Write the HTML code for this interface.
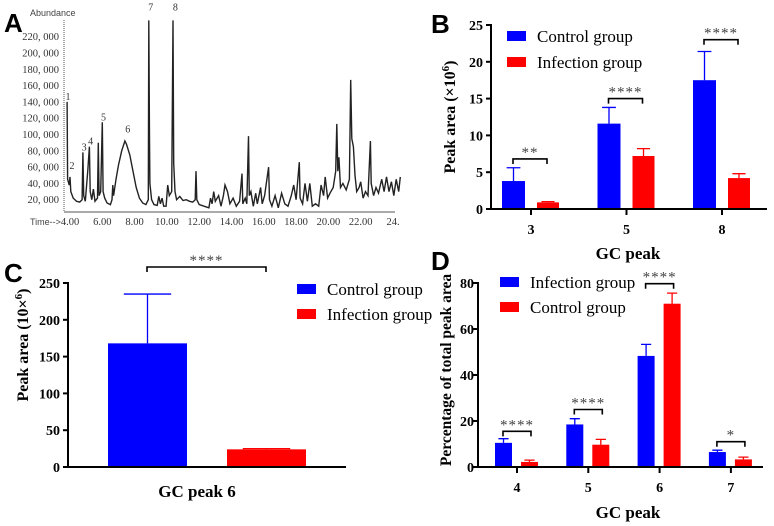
<!DOCTYPE html>
<html><head><meta charset="utf-8"><style>
html,body{margin:0;padding:0;background:#fff;}
svg{display:block;}
text{font-family:"Liberation Serif",serif;}
.tk{font-weight:bold;font-size:14px;}
.lab{font-weight:bold;font-size:16px;}
.leg{font-size:17px;}
.pl{font-family:"Liberation Sans",sans-serif;font-weight:bold;font-size:26px;}
.ga{font-family:"Liberation Serif",serif;font-size:10.5px;fill:#333;}
</style></head><body>
<svg id="fig" width="774" height="526" viewBox="0 0 774 526" xmlns="http://www.w3.org/2000/svg">
<text class="pl" x="4" y="32">A</text>
<text class="pl" x="431" y="33">B</text>
<text class="pl" x="4" y="282">C</text>
<text class="pl" x="431" y="270">D</text>
<g id="gA"></g>
<g id="gB"></g>
<g id="gC"></g>
<g id="gD"></g>
</svg>
<script>
// ---- Panel A data ----
const chromTimes=[3.82,3.85,3.95,4.0,4.05,4.2,4.4,4.6,4.75,4.8,4.85,4.95,5.1,5.2,5.25,5.35,5.45,5.55,5.7,5.75,5.8,5.9,6.0,6.05,6.15,6.3,6.5,6.6,6.65,6.7,6.85,7.0,7.2,7.4,7.5,7.7,7.9,8.1,8.3,8.5,8.7,8.85,8.88,8.92,8.95,9.05,9.2,9.4,9.5,9.6,9.7,9.8,9.95,10.05,10.15,10.3,10.38,10.42,10.5,10.6,10.8,11.0,11.2,11.4,11.6,11.75,11.8,11.85,12.0,12.3,12.6,12.7,12.8,12.9,13.0,13.2,13.35,13.5,13.6,13.75,13.9,14.1,14.3,14.5,14.65,14.7,14.85,14.95,15.05,15.1,15.2,15.35,15.5,15.6,15.8,15.9,16.05,16.3,16.35,16.5,16.7,16.9,17.1,17.3,17.5,17.7,17.85,18.0,18.2,18.25,18.4,18.55,18.7,18.85,19.0,19.2,19.4,19.55,19.7,19.8,19.95,20.1,20.3,20.45,20.52,20.58,20.65,20.75,20.9,21.1,21.3,21.38,21.45,21.55,21.65,21.75,21.9,22.0,22.15,22.3,22.45,22.6,22.65,22.8,22.95,23.1,23.3,23.45,23.6,23.75,23.9,24.05,24.2,24.35,24.45];
const chromAbund=[140,45,38,48,30,22,18,17,20,78,25,18,56,85,30,20,33,18,22,90,25,30,115,30,22,16,14,20,38,25,45,62,80,92,88,75,55,35,22,16,14,20,240,95,40,20,14,13,24,15,22,12,12,38,25,30,240,65,30,20,24,19,20,18,17,20,55,20,14,12,10,22,15,30,18,25,12,25,38,30,15,22,12,18,52,15,22,15,98,25,30,12,28,15,35,15,25,60,20,12,25,10,28,15,12,25,38,20,66,22,15,40,18,40,12,15,12,38,25,48,22,28,35,55,113,55,72,35,40,32,45,167,95,85,50,30,35,42,22,30,25,92,40,25,35,28,45,30,48,30,42,25,45,30,48];
const chromYTicks=[20,40,60,80,100,120,140,160,180,200,220];
const chromXTicks=[4,6,8,10,12,14,16,18,20,22,24];
const peakLabels=["1","2","3","4","5","6","7","8"];
const peakLabelTimes=[3.75,4.0,4.75,5.15,5.95,7.45,8.88,10.4];
const peakLabelAbund=[140,55,78,85,115,100,250,250];
// ---- Panel B data ----
const bCats=["3","5","8"];
const bControl=[3.8,11.6,17.5];
const bControlErr=[5.6,13.8,21.4];
const bInfect=[0.9,7.2,4.2];
const bInfectErr=[1.0,8.2,4.8];
const bSig=["**","****","****"];
const bSigY=[6.8,15.0,23.0];
const bTicks=[0,5,10,15,20,25];
// ---- Panel C data ----
const cControl=[168];
const cControlErr=[235];
const cInfect=[24];
const cInfectErr=[25];
const cTicks=[0,50,100,150,200,250];
// ---- Panel D data ----
const dCats=["4","5","6","7"];
const dInfect=[10.5,18.5,48.3,6.5];
const dInfectErr=[12.3,21,53.3,7.3];
const dControl=[2.2,9.7,71,3.3];
const dControlErr=[3.0,12,75.6,4.3];
const dSig=["****","****","****","*"];
const dSigY=[15.5,25,79.7,11];
const dTicks=[0,20,40,60,80];

const NS="http://www.w3.org/2000/svg";
function mk(p,tag,at,txt){const e=document.createElementNS(NS,tag);for(const k in at)e.setAttribute(k,at[k]);if(txt!==undefined)e.textContent=txt;p.appendChild(e);return e;}
const BLUE="#0000ff",RED="#ff0000";

// ---------- Panel A ----------
(function(){
 const g=document.getElementById('gA');
 const xA=t=>70+(t-4)*16.15, yA=v=>216-v*0.815;
 let e=mk(g,'text',{x:30,y:16,style:'font-family:Liberation Sans;font-size:9px;fill:#444'},'Abundance');
 
 e=mk(g,'line',{x1:64,y1:20,x2:64,y2:212,stroke:'#555','stroke-width':1,'stroke-dasharray':'1 1'});
 
 e=mk(g,'line',{x1:64,y1:212,x2:395,y2:212,stroke:'#555','stroke-width':1});
 
 chromYTicks.forEach(v=>{e=mk(g,'text',{x:59,y:yA(v)+3.5,'text-anchor':'end',class:'ga'},v===0?'0':(v+', 000'));
  });
 e=mk(g,'text',{x:30,y:225,style:'font-family:Liberation Sans;font-size:9px;fill:#444'},'Time-->');
 
 chromXTicks.forEach(t=>{e=mk(g,'text',{x:xA(t),y:225,'text-anchor':'middle',class:'ga'},t===24?'24.':t.toFixed(2));
  });
 const pts=chromTimes.map((t,i)=>xA(t).toFixed(1)+','+yA(chromAbund[i]).toFixed(1)).join(' ');
 e=mk(g,'polyline',{points:pts,fill:'none',stroke:'#222','stroke-width':1.4});
 
 peakLabels.forEach((l,i)=>{e=mk(g,'text',{x:xA(peakLabelTimes[i])+2,y:yA(peakLabelAbund[i])-2,'text-anchor':'middle',style:'font-size:10px;fill:#333'},l);
  });
})();

function axisY(g,x0,yFn,ticks,top,bottom,off){
 off=off||8;
 let e=mk(g,'line',{x1:x0,y1:top-1,x2:x0,y2:bottom+1,stroke:'#000','stroke-width':2});
 
 ticks.forEach(v=>{mk(g,'line',{x1:x0-5,y1:yFn(v),x2:x0,y2:yFn(v),stroke:'#000','stroke-width':2});
  e=mk(g,'text',{x:x0-off,y:yFn(v)+5,'text-anchor':'end',class:'tk'},String(v));
  });
}
function bar(g,x,w,v,err,yFn,col,name){
 let e=mk(g,'rect',{x:x,y:yFn(v),width:w,height:yFn(0)-yFn(v),fill:col});
 
 const cx=x+w/2;
 e=mk(g,'path',{d:`M${cx},${yFn(v)}V${yFn(err)}M${cx-w*0.3},${yFn(err)}H${cx+w*0.3}`,stroke:col,'stroke-width':1.3,fill:'none'});
 
}
function sig(g,x1,x2,y,s){
 let e=mk(g,'path',{d:`M${x1},${y+5}V${y}H${x2}V${y+5}`,stroke:'#000','stroke-width':1.6,fill:'none'});
 
 e=mk(g,'text',{x:(x1+x2)/2,y:y-2,'text-anchor':'middle',style:'font-size:15px;fill:#444;letter-spacing:1px'},s);
 
}
function legend(g,x,y,col,label){
 let e=mk(g,'rect',{x:x,y:y,width:19,height:10,fill:col});
 
 e=mk(g,'text',{x:x+30,y:y+11,class:'leg'},label);
 
}
function ylabel(g,x,y,html,name,fs){
 const e=mk(g,'text',{x:0,y:0,transform:`translate(${x},${y}) rotate(-90)`,'text-anchor':'middle',class:'lab'});
 if(fs)e.setAttribute('style','font-size:'+fs+'px');
 e.innerHTML=html;
}

// ---------- Panel B ----------
(function(){
 const g=document.getElementById('gB');
 const y=v=>209-v*7.36, cx=i=>531+i*95.5;
 bCats.forEach((c,i)=>{
  bar(g,cx(i)-29,23,bControl[i],bControlErr[i],y,BLUE,'bar-control-'+c);
  bar(g,cx(i)+6,22,bInfect[i],bInfectErr[i],y,RED,'bar-infection-'+c);
  sig(g,cx(i)-18,cx(i)+16,y(bSigY[i]),bSig[i]);
  mk(g,'line',{x1:cx(i),y1:209,x2:cx(i),y2:215,stroke:'#000','stroke-width':2});
  let e=mk(g,'text',{x:cx(i),y:234,'text-anchor':'middle',class:'tk'},c);
  
 });
 axisY(g,491,y,bTicks,25,209);
 let e=mk(g,'line',{x1:490,y1:209,x2:767,y2:209,stroke:'#000','stroke-width':2});
 
 e=mk(g,'text',{x:628,y:259,'text-anchor':'middle',class:'lab',style:'font-size:17px'},'GC peak');
 
 ylabel(g,455,117,'Peak area (×10<tspan dy="-6" font-size="11">6</tspan><tspan dy="6">)</tspan>','y-axis-title');
 legend(g,507,31,BLUE,'Control group');legend(g,507,57,RED,'Infection group');
})();

// ---------- Panel C ----------
(function(){
 const g=document.getElementById('gC');
 const y=v=>467-v*0.736;
 bar(g,108,79,cControl[0],cControlErr[0],y,BLUE,'bar-control');
 bar(g,227,79,cInfect[0],cInfectErr[0],y,RED,'bar-infection');
 sig(g,147,266,267,'****');
 axisY(g,68,y,cTicks,283,467);
 let e=mk(g,'line',{x1:67,y1:467,x2:346,y2:467,stroke:'#000','stroke-width':2});
 
 e=mk(g,'text',{x:197,y:497,'text-anchor':'middle',class:'lab',style:'font-size:17px'},'GC peak 6');
 
 ylabel(g,28,345,'Peak area (10×<tspan dy="-6" font-size="11">6</tspan><tspan dy="6">)</tspan>','y-axis-title');
 legend(g,297,284,BLUE,'Control group');legend(g,297,309,RED,'Infection group');
})();

// ---------- Panel D ----------
(function(){
 const g=document.getElementById('gD');
 const y=v=>467-v*2.3, cx=i=>517+i*71.3;
 dCats.forEach((c,i)=>{
  bar(g,cx(i)-22,17,dInfect[i],dInfectErr[i],y,BLUE,'bar-infection-'+c);
  bar(g,cx(i)+4,17,dControl[i],dControlErr[i],y,RED,'bar-control-'+c);
  sig(g,cx(i)-14,cx(i)+14,y(dSigY[i]),dSig[i]);
  mk(g,'line',{x1:cx(i),y1:467,x2:cx(i),y2:473,stroke:'#000','stroke-width':2});
  let e=mk(g,'text',{x:cx(i),y:492,'text-anchor':'middle',class:'tk'},c);
  
 });
 axisY(g,478,y,dTicks,283,467,4);
 let e=mk(g,'line',{x1:477,y1:467,x2:763,y2:467,stroke:'#000','stroke-width':2});
 
 e=mk(g,'text',{x:628,y:518,'text-anchor':'middle',class:'lab',style:'font-size:17px'},'GC peak');
 
 ylabel(g,451,370,'Percentage of total peak area','y-axis-title',15.5);
 legend(g,500,277,BLUE,'Infection group');legend(g,500,302,RED,'Control group');
})();
</script>
</body></html>
